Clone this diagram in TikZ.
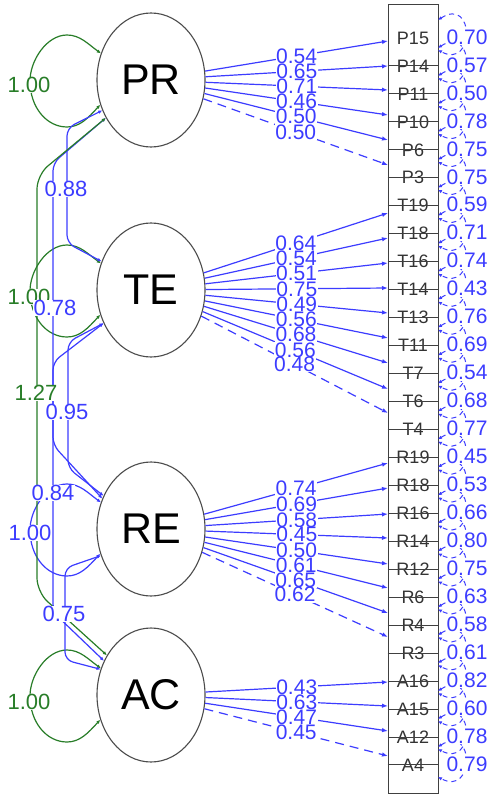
\documentclass[tikz,border=0pt]{standalone}
\usepackage{fontspec}
\setmainfont{Liberation Sans}
\usetikzlibrary{shapes.geometric,arrows.meta}
\definecolor{cblue}{RGB}{60,60,255}
\definecolor{cgreen}{RGB}{40,125,40}
\newcommand\setfs[1]{\fontsize{#1}{#1}\selectfont}
\newcommand\varloop[2]{%
  \begin{scope}[shift={(#1.center)}]
    \draw[varl,draw=#2] (#1.152) .. controls (-63,-36) and (-71,-45) .. (-84,-45)
      .. controls (-104.4,-45) and (-121,-19.4) .. (-121,1)
      .. controls (-121,27.4) and (-104.4,47) .. (-84,47)
      .. controls (-71,47) and (-63,38) .. (#1.206);
  \end{scope}}
\begin{document}
\begin{tikzpicture}[x=1pt,y=-1pt,
  lat/.style={ellipse, draw=black!70, line width=1.1pt, minimum width=108pt, minimum height=134pt, inner sep=0pt, font=\setfs{43}},
  item/.style={inner sep=0pt, text=black!80, font=\setfs{18}},
  div/.style={draw=black!75, line width=1pt},
  load/.style={draw=cblue, line width=1.2pt, -{Latex[length=6pt,width=4.5pt]}},
  fixed/.style={load, dash pattern=on 9pt off 6pt},
  errloop/.style={draw=cblue, line width=1pt, dash pattern=on 5pt off 4pt, {Latex[length=4pt,width=3.5pt]}-{Latex[length=4pt,width=3.5pt]}},
  llab/.style={fill=white, inner sep=0.5pt, text=cblue, font=\setfs{21}},
  elab/.style={fill=white, inner sep=0.6pt, text=cblue, font=\setfs{21}},
  covb/.style={draw=cblue, line width=1.2pt, rounded corners=8pt, {Latex[length=4pt,width=3.5pt]}-{Latex[length=4pt,width=3.5pt]}},
  covg/.style={covb, draw=cgreen},
  varl/.style={line width=1.2pt, {Latex[length=4pt,width=3.5pt]}-{Latex[length=4pt,width=3.5pt]}},
  clab/.style={fill=white, inner sep=0.6pt, font=\setfs{22}},
]
\useasboundingbox (0,0) rectangle (490,794);
\fill[white] (0,0) rectangle (490,794);

% latent variables
\node[lat] (PR) at (151,80) {PR};
\node[lat] (TE) at (151,290) {TE};
\node[lat] (RE) at (151,529) {RE};
\node[lat] (AC) at (151,695) {AC};

% indicator column
\node[draw=black!75, line width=1pt, minimum width=50pt, minimum height=788pt, inner sep=0pt] (box) at (413,399) {};

\foreach \n/\lat/\ay/\sty [count=\i from 0] in {
  P15/PR/41/load, P14/PR/66/load, P11/PR/90/load,
  P10/PR/115/load, P6/PR/140/load, P3/PR/165/fixed,
  T19/TE/213/load, T18/TE/238/load, T16/TE/263/load,
  T14/TE/288/load, T13/TE/313/load, T11/TE/338/load,
  T7/TE/363/load, T6/TE/389/load, T4/TE/413/fixed,
  R19/RE/463/load, R18/RE/488/load, R16/RE/514/load,
  R14/RE/538/load, R12/RE/564/load, R6/RE/588/load,
  R4/RE/613/load, R3/RE/637/fixed,
  A16/AC/682/load, A15/AC/706/load, A12/AC/731/load,
  A4/AC/756/fixed}{
  \pgfmathsetmacro\ly{38+27.96*\i}
  \pgfmathsetmacro\ya{\ly-18}
  \pgfmathsetmacro\yb{\ly-42}
  \pgfmathsetmacro\yc{\ly+32}
  \pgfmathsetmacro\yd{\ly+12}
  \node[item] (\n) at (413,\ly) {\n};
  \ifnum\i>0 \draw[div] (box.west |- \n) -- (box.east |- \n); \fi
  \coordinate (a\n) at (388,\ay);
  \draw[\sty] (\lat) -- coordinate (m\n) (a\n);
  \draw[errloop] (438,\ya) .. controls (475,\yb) and (475,\yc) .. (438,\yd);
}
\foreach \n/\lv/\ev [count=\i from 0] in {
  P15/0.54/0.70, P14/0.65/0.57, P11/0.71/0.50, P10/0.46/0.78, P6/0.50/0.75, P3/0.50/0.75,
  T19/0.64/0.59, T18/0.54/0.71, T16/0.51/0.74, T14/0.75/0.43, T13/0.49/0.76, T11/0.56/0.69,
  T7/0.68/0.54, T6/0.56/0.68, T4/0.48/0.77,
  R19/0.74/0.45, R18/0.69/0.53, R16/0.58/0.66, R14/0.45/0.80, R12/0.50/0.75, R6/0.61/0.63,
  R4/0.65/0.58, R3/0.62/0.61,
  A16/0.43/0.82, A15/0.63/0.60, A12/0.47/0.78, A4/0.45/0.79}{
  \pgfmathsetmacro\ly{38+27.96*\i-1}
  \node[llab] (l\n) at (m\n) {\lv};
  \node[elab] (e\n) at (467,\ly) {\ev};
}

% variances of latents
\varloop{PR}{cgreen}
\varloop{TE}{cgreen}
\varloop{RE}{cblue}
\varloop{AC}{cgreen}

% covariances
\draw[covb] (PR.212) -- (67,128) -- (67,243) -- (TE.150);
\draw[covb] (PR.220) -- (53,163) -- (53,445) -- (RE.148);
\draw[covg, rounded corners=14pt] (PR.220) -- (37,175) -- (37,592) -- (AC.138);
\draw[covb] (TE.215) -- (68,342) -- (68,468) -- (RE.145);
\draw[covb] (TE.215) -- (53,362) -- (53,612) -- (AC.144);
\draw[covb] (RE.208) -- (65,568) -- (65,660) -- (AC.153);

% variance labels
\node[clab, text=cgreen] (vPR) at (29,85) {1.00};
\node[clab, text=cgreen] (vTE) at (29,297) {1.00};
\node[clab, text=cblue] (vRE) at (30,533) {1.00};
\node[clab, text=cgreen] (vAC) at (29,702) {1.00};

% covariance labels
\node[clab, text=cblue] (cPT) at (66,189) {0.88};
\node[clab, text=cblue] (cPR) at (55,308) {0.78};
\node[clab, text=cgreen] (cPA) at (36,393) {1.27};
\node[clab, text=cblue] (cTR) at (67,412) {0.95};
\node[clab, text=cblue] (cTA) at (53,493) {0.84};
\node[clab, text=cblue] (cRA) at (64,614) {0.75};
\end{tikzpicture}
\end{document}
